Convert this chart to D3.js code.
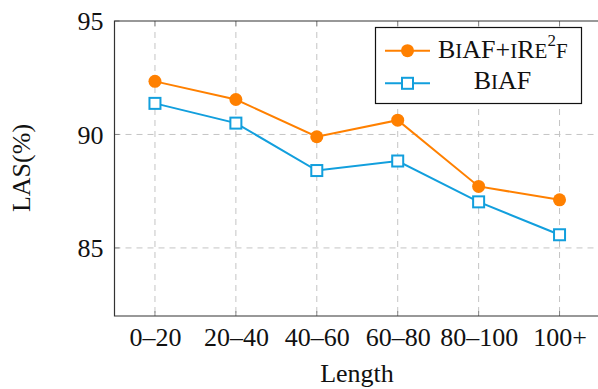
<!DOCTYPE html>
<html>
<head>
<meta charset="utf-8">
<script src="https://cdn.jsdelivr.net/npm/d3@7"></script>
<style>
  html, body { margin: 0; padding: 0; background: #fff; overflow: hidden; }
  svg text { font-family: "Liberation Serif", "Times New Roman", Times, "DejaVu Serif", serif; fill: #111; }
</style>
</head>
<body>
<svg id="chart" width="598" height="389"></svg>
<script>
// categories and series
const lengths = ['0–20', '20–40', '40–60', '60–80', '80–100', '100+'];
const biafIre2f = [92.34, 91.54, 89.9, 90.63, 87.71, 87.12];
const biaf = [91.37, 90.5, 88.41, 88.83, 87.03, 85.58];
const yTicks = [85, 90, 95];

const orange = '#ff8000';
const blue = '#129fdd';
const serifFont = '"Liberation Serif", "Times New Roman", Times, "DejaVu Serif", serif';
const fontSize = 26;

const plotLeft = 114.5, plotRight = 600, plotTop = 21, plotBottom = 316;
const svg = d3.select('#chart').attr('font-family', serifFont);

const x = d3.scalePoint().domain(lengths).range([plotLeft, plotRight]).padding(0.5);
const y = d3.scaleLinear().domain([82, 95]).range([plotBottom, plotTop]);

// grid
const grid = svg.append('g')
    .attr('stroke', '#c4c4c4')
    .attr('stroke-width', 1)
    .attr('stroke-dasharray', '6 5');
grid.selectAll('line.v')
    .data(lengths)
    .join('line')
    .attr('class', 'v')
    .attr('x1', (d) => x(d)).attr('x2', (d) => x(d))
    .attr('y1', plotTop).attr('y2', plotBottom);
grid.selectAll('line.h')
    .data(yTicks.filter((t) => t < 95))
    .join('line')
    .attr('class', 'h')
    .attr('x1', plotLeft).attr('x2', plotRight)
    .attr('y1', (d) => y(d)).attr('y2', (d) => y(d));

// tick marks (inside the frame)
const ticks = svg.append('g').attr('stroke', '#888').attr('stroke-width', 1);
lengths.forEach((d) => {
    ticks.append('line').attr('x1', x(d)).attr('x2', x(d)).attr('y1', plotBottom).attr('y2', plotBottom - 5);
    ticks.append('line').attr('x1', x(d)).attr('x2', x(d)).attr('y1', plotTop).attr('y2', plotTop + 5);
});
yTicks.forEach((t) => {
    ticks.append('line').attr('x1', plotLeft).attr('x2', plotLeft + 5).attr('y1', y(t)).attr('y2', y(t));
});

// frame
svg.append('path')
    .attr('d', `M${plotRight},${plotTop}H${plotLeft}V${plotBottom}H${plotRight}`)
    .attr('fill', 'none')
    .attr('stroke', '#333')
    .attr('stroke-width', 1.2);

// axes labels
const yAxis = d3.axisLeft(y).tickValues(yTicks).tickSize(0).tickPadding(11);
const gy = svg.append('g').attr('transform', `translate(${plotLeft},0)`).call(yAxis);
gy.attr('font-family', serifFont).attr('font-size', fontSize);
gy.select('.domain').remove();
gy.selectAll('text').attr('dy', '0.34em');

const xAxis = d3.axisBottom(x).tickSize(0).tickPadding(12);
const gx = svg.append('g').attr('transform', `translate(0,${plotBottom})`).call(xAxis);
gx.attr('font-family', serifFont).attr('font-size', fontSize);
gx.select('.domain').remove();
gx.selectAll('text').attr('dy', '0.7em');

svg.append('text')
    .attr('x', 357).attr('y', 382)
    .attr('text-anchor', 'middle')
    .attr('font-size', fontSize)
    .text('Length');

svg.append('text')
    .attr('transform', 'translate(30,168) rotate(-90)')
    .attr('text-anchor', 'middle')
    .attr('font-size', fontSize)
    .text('LAS(%)');

// series
const series = [
    { name: 'biafIre2f', values: biafIre2f, color: orange, marker: 'circle' },
    { name: 'biaf', values: biaf, color: blue, marker: 'square' }
];
const line = d3.line().x((d, i) => x(lengths[i])).y((d) => y(d));

series.forEach((s) => {
    svg.append('path')
        .attr('d', line(s.values))
        .attr('fill', 'none')
        .attr('stroke', s.color)
        .attr('stroke-width', 2);
});

function drawMarker(g, type, color, cx, cy) {
    if (type === 'circle') {
        g.append('circle').attr('cx', cx).attr('cy', cy).attr('r', 6.5).attr('fill', color);
    } else {
        g.append('rect')
            .attr('x', cx - 5.5).attr('y', cy - 5.5)
            .attr('width', 11).attr('height', 11)
            .attr('fill', '#fff')
            .attr('stroke', color)
            .attr('stroke-width', 2);
    }
}

series.forEach((s) => {
    const g = svg.append('g');
    s.values.forEach((v, i) => drawMarker(g, s.marker, s.color, x(lengths[i]), y(v)));
});

// legend
const lg = svg.append('g');
lg.append('rect')
    .attr('x', 375.5).attr('y', 27.5)
    .attr('width', 206).attr('height', 76)
    .attr('fill', '#fff')
    .attr('stroke', '#111')
    .attr('stroke-width', 1.2);

const rows = [50.7, 83.3];
series.forEach((s, i) => {
    lg.append('line')
        .attr('x1', 385).attr('x2', 430)
        .attr('y1', rows[i]).attr('y2', rows[i])
        .attr('stroke', s.color).attr('stroke-width', 2);
    drawMarker(lg, s.marker, s.color, 407.5, rows[i]);
});

// small-caps label helper: [text, small?, superscript?]
function smallCaps(textEl, parts) {
    let raised = false;
    parts.forEach(([t, small, sup]) => {
        const ts = textEl.append('tspan').text(t).attr('font-size', small ? 21 : 26);
        if (sup) ts.attr('font-size', 17).attr('dy', -12);
        else if (raised) ts.attr('dy', 12);
        raised = !!sup;
    });
}

const t1 = lg.append('text').attr('x', 438).attr('y', 57.5);
smallCaps(t1, [['B'], ['I', true], ['AF+'], ['I', true], ['R'], ['E', true], ['2', true, true], ['F', true]]);

const t2 = lg.append('text').attr('x', 502.5).attr('y', 89).attr('text-anchor', 'middle');
smallCaps(t2, [['B'], ['I', true], ['AF']]);
</script>
</body>
</html>
